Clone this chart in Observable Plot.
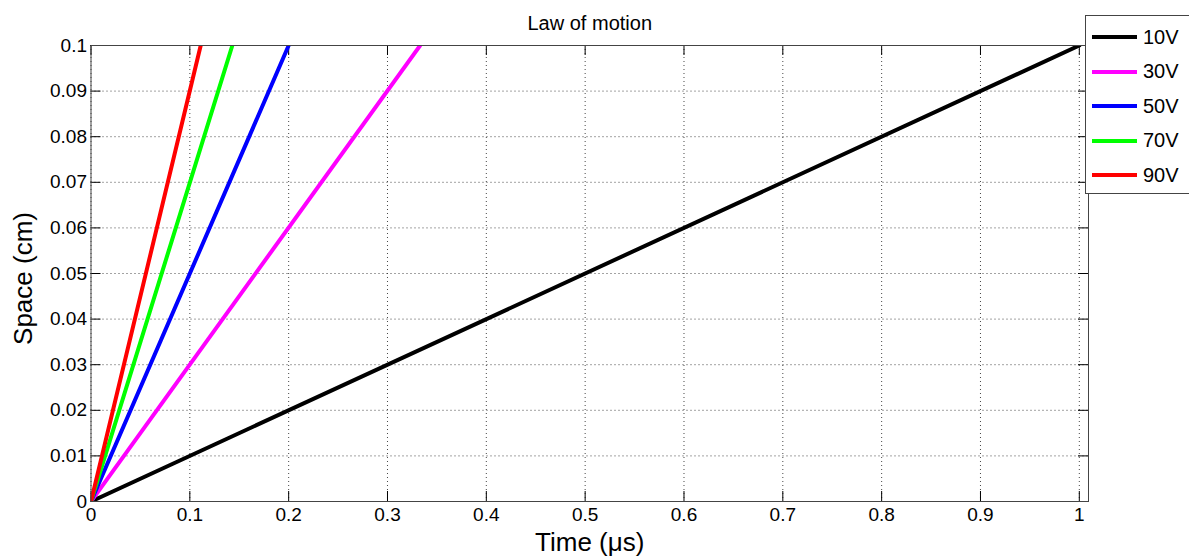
<!DOCTYPE html>
<html>
<head>
<meta charset="utf-8">
<script src="https://cdn.jsdelivr.net/npm/d3@7"></script>
<script src="https://cdn.jsdelivr.net/npm/@observablehq/plot@0.6"></script>
<style>
  html, body { margin: 0; padding: 0; background: #fff; }
  #wrap { position: relative; width: 1189px; height: 559px; overflow: hidden; font-family: "Liberation Sans", Arial, sans-serif; }
  #legend { position: absolute; left: 1085px; top: 15px; width: 120px; height: 179px; background: #fff; border: 1px solid #444; box-sizing: border-box; }
  #legend .row { position: absolute; left: 6px; height: 20px; display: flex; align-items: center; }
  #legend .sw { width: 45px; height: 4px; margin-right: 6px; }
  #legend .lab { font-size: 20px; color: #000; }
</style>
</head>
<body>
<div id="wrap"></div>
<script>
// Applied voltages and the time (µs) at which each trajectory reaches 0.1 cm
const series = ["10V", "30V", "50V", "70V", "90V"];
const colors = ["#000000", "#ff00ff", "#0000ff", "#00ff00", "#ff0000"];
const startTime = [0, 0, 0, 0, 0];
const startSpace = [0, 0, 0, 0, 0];
const endTime = [1.0, 0.333, 0.2, 0.143, 0.111];
const endSpace = [0.1, 0.1, 0.1, 0.1, 0.1];

const xTicks = [0, 0.1, 0.2, 0.3, 0.4, 0.5, 0.6, 0.7, 0.8, 0.9, 1];
const yTicks = [0, 0.01, 0.02, 0.03, 0.04, 0.05, 0.06, 0.07, 0.08, 0.09, 0.1];

const W = 1189, H = 559;
const margin = {top: 45, right: 101, bottom: 58, left: 90.5};
const innerW = W - margin.left - margin.right;
const innerH = H - margin.top - margin.bottom;
const tickLen = 10;

// Each law of motion is a straight segment from the origin
const rows = series.flatMap((s, i) => [
  {series: s, t: startTime[i], s: startSpace[i]},
  {series: s, t: endTime[i], s: endSpace[i]}
]);

const font = "'Liberation Sans', Arial, sans-serif";
const fmt = d3.format("~g");

const chart = Plot.plot({
  width: W,
  height: H,
  marginTop: margin.top,
  marginRight: margin.right,
  marginBottom: margin.bottom,
  marginLeft: margin.left,
  style: {fontFamily: font, background: "#fff", color: "#000", overflow: "visible"},
  x: {domain: [0, 1.0093], axis: null},
  y: {domain: [0, 0.1], axis: null},
  color: {domain: series, range: colors},
  marks: [
    Plot.gridX(xTicks, {stroke: "#333", strokeOpacity: 0.9, strokeDasharray: "1,3"}),
    Plot.gridY(yTicks, {stroke: "#333", strokeOpacity: 0.9, strokeDasharray: "1,3"}),
    // inward tick marks on all four sides
    Plot.tickX(xTicks, {x: d => d, insetTop: innerH - tickLen, stroke: "#000"}),
    Plot.tickX(xTicks, {x: d => d, insetBottom: innerH - tickLen, stroke: "#000"}),
    Plot.tickY(yTicks, {y: d => d, insetRight: innerW - tickLen, stroke: "#000"}),
    Plot.tickY(yTicks, {y: d => d, insetLeft: innerW - tickLen, stroke: "#000"}),
    // tick labels
    Plot.text(xTicks, {x: d => d, text: d => fmt(d), frameAnchor: "bottom", lineAnchor: "top", dy: 6, fontSize: 19, fill: "#000"}),
    Plot.text(yTicks, {y: d => d, text: d => fmt(d), frameAnchor: "left", textAnchor: "end", dx: -4, fontSize: 19, fill: "#000"}),
    Plot.line(rows, {x: "t", y: "s", z: "series", stroke: "series", strokeWidth: 4, clip: true}),
    Plot.frame({stroke: "#444", strokeWidth: 1}),
    // title and axis labels
    Plot.text(["Law of motion"], {frameAnchor: "top", lineAnchor: "middle", textAnchor: "middle", dy: -22, fontSize: 20, fill: "#000"}),
    Plot.text(["Time (μs)"], {frameAnchor: "bottom", lineAnchor: "middle", textAnchor: "middle", dy: 41, fontSize: 26, fill: "#000"}),
    Plot.text(["Space (cm)"], {frameAnchor: "left", lineAnchor: "middle", textAnchor: "middle", dx: -67, dy: 5, rotate: -90, fontSize: 26, fill: "#000"})
  ]
});

const wrap = document.getElementById("wrap");
wrap.appendChild(chart);

// Legend box at the upper right, overlapping the plot frame
const legend = document.createElement("div");
legend.id = "legend";
series.forEach((s, i) => {
  const row = document.createElement("div");
  row.className = "row";
  row.style.top = (11 + i * 34.5) + "px";
  const sw = document.createElement("div");
  sw.className = "sw";
  sw.style.background = colors[i];
  const lab = document.createElement("span");
  lab.className = "lab";
  lab.textContent = s;
  row.appendChild(sw);
  row.appendChild(lab);
  legend.appendChild(row);
});
wrap.appendChild(legend);
</script>
</body>
</html>
